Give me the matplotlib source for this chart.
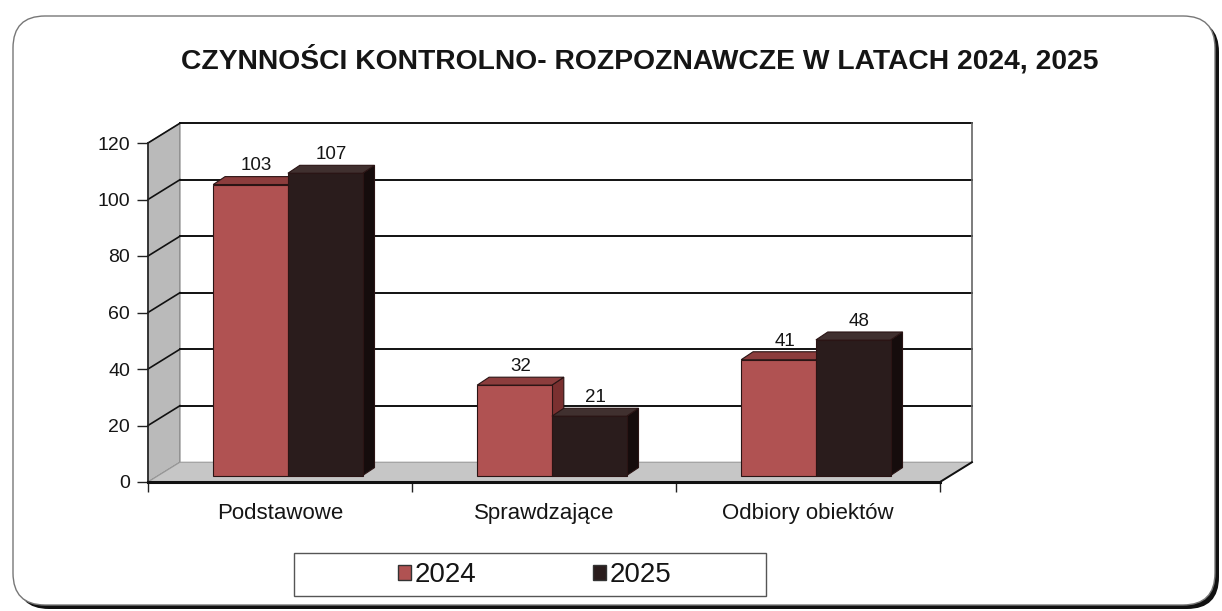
import matplotlib.pyplot as plt
from matplotlib.patches import Polygon, FancyBboxPatch, Rectangle, Patch
import numpy as np

plt.rcParams['font.family'] = ['Liberation Sans', 'DejaVu Sans']

title = 'CZYNNOŚCI KONTROLNO- ROZPOZNAWCZE W LATACH 2024, 2025'
categories = ['Podstawowe', 'Sprawdzające', 'Odbiory obiektów']
years = ['2024', '2025']
values_2024 = [103, 32, 41]
values_2025 = [107, 21, 48]
yticks = [0, 20, 40, 60, 80, 100, 120]

red_front, red_top, red_side = '#b05252', '#8c3d3d', '#7a3030'
blk_front, blk_top, blk_side = '#2a1c1c', '#40302f', '#150c0c'
ink = '#151515'

W, H = 1222, 611
fig = plt.figure(figsize=(W / 100, H / 100), dpi=100)
inch = fig.dpi_scale_trans


def px(x, y):
    # pixel position (from top left) -> inches
    return x / 100, (H - y) / 100


# rounded frame with a dark shadow on the right and bottom
x0, y0 = px(13, 605)
fw, fh = (1215 - 13) / 100, (605 - 16) / 100
fig.patches.append(FancyBboxPatch((x0 + 0.04, y0 - 0.04), fw, fh,
                                  boxstyle='round,pad=0,rounding_size=0.32',
                                  transform=inch, facecolor='#111111', edgecolor='none',
                                  zorder=-3))
fig.patches.append(FancyBboxPatch((x0, y0), fw, fh,
                                  boxstyle='round,pad=0,rounding_size=0.32',
                                  transform=inch, facecolor='white', edgecolor='#777777', lw=1,
                                  zorder=-2))

fig.text(640 / W, 1 - 60 / H, title, ha='center', va='center', fontsize=20.3,
         fontweight='bold', color=ink)

ax = fig.add_axes([148 / W, 1 - 482 / H, 792 / W, 339 / H])
ax.set_xlim(-0.5, 2.5)
ax.set_ylim(0, 120)
ax.patch.set_visible(False)

# pseudo 3d walls
DX, DY = 0.121, 7.0
ymax = yticks[-1]
ax.add_patch(Polygon([(-0.5, 0), (-0.5 + DX, DY), (-0.5 + DX, ymax + DY), (-0.5, ymax)],
                     closed=True, facecolor='#bababa', edgecolor='#777777', lw=0.8,
                     clip_on=False, zorder=1))
ax.add_patch(Polygon([(-0.5, 0), (2.5, 0), (2.5 + DX, DY), (-0.5 + DX, DY)],
                     closed=True, facecolor='#c6c6c6', edgecolor='#999999', lw=0.8,
                     clip_on=False, zorder=1))
for v in yticks[1:]:
    ax.plot([-0.5 + DX, 2.5 + DX], [v + DY, v + DY], color='#111111', lw=1.4,
            clip_on=False, zorder=2)
    ax.plot([-0.5, -0.5 + DX], [v, v + DY], color='#111111', lw=1.2,
            clip_on=False, zorder=2)
ax.plot([2.5 + DX, 2.5 + DX], [DY, ymax + DY], color='#666666', lw=1.2,
        clip_on=False, zorder=2)
ax.plot([2.5, 2.5 + DX], [0, DY], color='#111111', lw=1.4, clip_on=False, zorder=3)

# bars
x = np.arange(len(categories))
w = 0.283
BX, BY = 0.03, 2.3
bdx, bdy = 0.045, 2.8


def draw_series(vals, offset, front, top, side, z):
    bars = ax.bar(x + BX + offset, vals, w, bottom=BY, color=front,
                  edgecolor='#2a1414', lw=0.8, zorder=z, clip_on=False)
    for b, v in zip(bars, vals):
        bx, by, bw, bh = b.get_x(), b.get_y(), b.get_width(), b.get_height()
        t = by + bh
        ax.add_patch(Polygon([(bx, t), (bx + bw, t), (bx + bw + bdx, t + bdy), (bx + bdx, t + bdy)],
                             closed=True, facecolor=top, edgecolor='#2a1414', lw=0.8,
                             zorder=z, clip_on=False))
        ax.add_patch(Polygon([(bx + bw, by), (bx + bw + bdx, by + bdy), (bx + bw + bdx, t + bdy), (bx + bw, t)],
                             closed=True, facecolor=side, edgecolor='#2a1414', lw=0.8,
                             zorder=z - 0.5, clip_on=False))
        ax.text(bx + bw / 2 + bdx / 2, t + bdy + 0.8, str(v), ha='center', va='bottom',
                fontsize=13.5, color=ink, zorder=z + 1)
    return bars


draw_series(values_2024, -w / 2, red_front, red_top, red_side, 5)
draw_series(values_2025, w / 2, blk_front, blk_top, blk_side, 7)

# axes
for s in ['top', 'right']:
    ax.spines[s].set_visible(False)
ax.spines['left'].set_color('#222222')
ax.spines['left'].set_linewidth(1.2)
ax.spines['bottom'].set_color('#111111')
ax.spines['bottom'].set_linewidth(2.2)
ax.spines['left'].set_zorder(3)
ax.spines['bottom'].set_zorder(3)
ax.set_yticks(yticks)
ax.tick_params(axis='y', length=8, width=1, color='#222222', labelsize=14,
               labelcolor=ink, pad=5)
ax.set_xticks(x)
ax.set_xticklabels(categories)
ax.tick_params(axis='x', which='major', length=0, labelsize=16, labelcolor=ink, pad=15)
ax.set_xticks([-0.5, 0.5, 1.5, 2.5], minor=True)
ax.tick_params(axis='x', which='minor', length=7, width=1, color='#222222')

# legend
handles = [Patch(facecolor=red_front, edgecolor='#333333'),
           Patch(facecolor=blk_front, edgecolor='#333333')]
fig.legend(handles, years, loc='center', bbox_to_anchor=(535 / W, 1 - 575 / H),
           ncol=2, frameon=False, fontsize=20, handlelength=0.45, handleheight=0.45,
           handletextpad=0.15, columnspacing=4.2, labelcolor=ink)
lx, ly = px(294, 596)
fig.patches.append(Rectangle((lx, ly), (766 - 294) / 100, (596 - 553) / 100,
                             transform=inch, facecolor='none', edgecolor='#555555', lw=1))

fig.savefig('out.png', dpi=100)
